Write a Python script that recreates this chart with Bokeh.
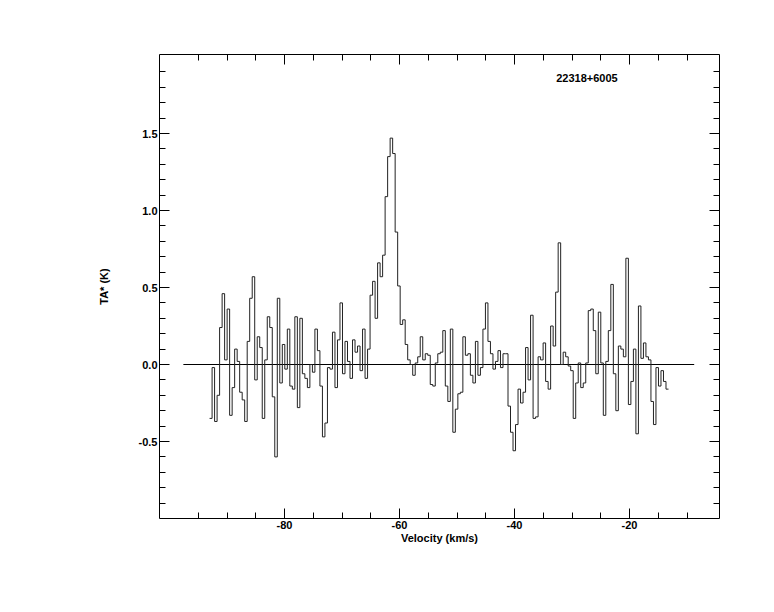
import numpy as np
from bokeh.plotting import figure
from bokeh.models import LinearAxis, FixedTicker, Label, Range1d
from bokeh.embed import file_html
from bokeh.resources import INLINE

# ---- data ----
SOURCE_NAME = "22318+6005"
V_FIRST_EDGE = -93.04   # km/s, left edge of first channel
V_LAST_EDGE = -13.22    # km/s, right edge of last channel
T_A = [
    -0.35, -0.02, -0.37, -0.20, 0.24, 0.46, 0.03, 0.36, -0.33, -0.15,
    0.10, 0.02, -0.18, -0.23, -0.37, 0.15, 0.43, 0.57, -0.10, 0.18,
    0.11, -0.35, 0.03, 0.31, 0.24, -0.21, -0.60, 0.43, -0.12, 0.13,
    -0.03, 0.23, -0.14, -0.16, 0.31, -0.28, 0.30, -0.06, -0.09, -0.15,
    0.00, -0.05, 0.23, 0.09, -0.14, -0.47, -0.38, -0.02, -0.03, 0.21,
    -0.15, 0.16, 0.40, -0.06, 0.15, 0.02, -0.09, 0.16, 0.08, 0.12,
    -0.04, 0.23, -0.09, 0.10, 0.45, 0.54, 0.30, 0.66, 0.57, 0.71,
    1.09, 1.35, 1.47, 1.37, 0.86, 0.51, 0.26, 0.29, 0.13, 0.03,
    0.00, -0.07, 0.01, 0.05, 0.18, 0.03, 0.07, 0.06, -0.13, -0.14,
    0.01, 0.07, 0.08, 0.22, -0.14, -0.24, 0.23, -0.44, -0.29, -0.19,
    -0.18, 0.18, 0.06, 0.07, -0.07, -0.12, 0.15, -0.07, -0.02, 0.23,
    0.40, 0.15, 0.07, -0.03, 0.02, 0.09, -0.02, 0.07, 0.07, -0.27,
    -0.44, -0.56, -0.39, -0.16, -0.25, -0.18, 0.11, -0.10, 0.32, -0.35,
    -0.34, 0.05, 0.03, 0.14, -0.11, -0.16, 0.25, 0.12, 0.47, 0.79,
    0.00, 0.08, 0.05, -0.01, -0.04, -0.35, -0.12, 0.01, -0.15, -0.12,
    0.01, 0.35, 0.36, 0.22, -0.06, 0.34, 0.01, -0.33, 0.02, 0.22,
    0.52, -0.06, -0.30, 0.12, 0.10, 0.05, 0.69, -0.26, -0.11, 0.10,
    -0.45, 0.38, 0.04, 0.14, 0.05, 0.03, -0.24, -0.39, -0.02, -0.14,
    -0.04, -0.11, -0.16,
]
BASELINE_V = [-97.6, -8.75]
BASELINE_T = [0.0, 0.0]

X_TICKS = [-80, -60, -40, -20]
X_TICK_LABELS = ["-80", "-60", "-40", "-20"]
X_MINOR = [-95, -90, -85, -75, -70, -65, -55, -50, -45, -35, -30, -25, -15, -10]
Y_TICKS = [-0.5, 0.0, 0.5, 1.0, 1.5]
Y_TICK_LABELS = ["-0.5", "0.0", "0.5", "1.0", "1.5"]
Y_MINOR = [-0.9, -0.8, -0.7, -0.6, -0.4, -0.3, -0.2, -0.1, 0.1, 0.2, 0.3, 0.4,
           0.6, 0.7, 0.8, 0.9, 1.1, 1.2, 1.3, 1.4, 1.6, 1.7, 1.8, 1.9]

FONT = "Liberation Sans"

n = len(T_A)
dv = (V_LAST_EDGE - V_FIRST_EDGE) / n
edges = V_FIRST_EDGE + dv * np.arange(n + 1)
steps_y = T_A + [T_A[-1]]

p = figure(width=766, height=604,
           x_range=Range1d(-101.75, -4.35), y_range=Range1d(-1.0, 2.013),
           output_backend="svg", toolbar_location=None,
           x_axis_label="Velocity (km/s)", y_axis_label="TA* (K)",
           min_border_left=159, min_border_right=47,
           min_border_top=54, min_border_bottom=86)
p.outline_line_color = None
p.grid.visible = False
p.background_fill_color = "white"
p.border_fill_color = "white"

xt = FixedTicker(ticks=X_TICKS, minor_ticks=X_MINOR)
yt = FixedTicker(ticks=Y_TICKS, minor_ticks=Y_MINOR)


def style(ax):
    ax.axis_line_color = "black"
    ax.axis_line_width = 1
    ax.major_tick_line_color = "black"
    ax.minor_tick_line_color = "black"
    ax.major_tick_in = 10
    ax.major_tick_out = 0
    ax.minor_tick_in = 6
    ax.minor_tick_out = 0
    ax.major_label_text_font = FONT
    ax.major_label_text_font_style = "bold"
    ax.major_label_text_font_size = "11px"
    ax.major_label_text_color = "black"
    ax.major_label_standoff = 2
    ax.axis_label_text_font = FONT
    ax.axis_label_text_font_style = "bold"
    ax.axis_label_text_font_size = "11px"
    ax.axis_label_text_color = "black"


xa = p.xaxis[0]
xa.ticker = xt
xa.major_label_overrides = dict(zip(X_TICKS, X_TICK_LABELS))
style(xa)
xa.axis_label_standoff = 0

ya = p.yaxis[0]
ya.ticker = yt
ya.major_label_overrides = dict(zip(Y_TICKS, Y_TICK_LABELS))
style(ya)
ya.axis_label_standoff = 26

# mirrored tick axes on top and right, without labels
top = LinearAxis(ticker=xt)
style(top)
top.major_label_overrides = {t: "" for t in X_TICKS}
top.major_label_standoff = 0
p.add_layout(top, "above")

right = LinearAxis(ticker=yt)
style(right)
right.major_label_overrides = {t: "" for t in Y_TICKS}
right.major_label_standoff = 0
p.add_layout(right, "right")

p.line(BASELINE_V, BASELINE_T, line_color="black", line_width=1)
p.step(edges, steps_y, mode="after", line_color="#222222", line_width=1)

p.add_layout(Label(x=-32.75, y=1.86, text=SOURCE_NAME, text_font=FONT,
                   text_font_style="bold", text_font_size="11px",
                   text_color="black", text_baseline="alphabetic"))

open("out.html", "w").write(file_html(p, INLINE))
